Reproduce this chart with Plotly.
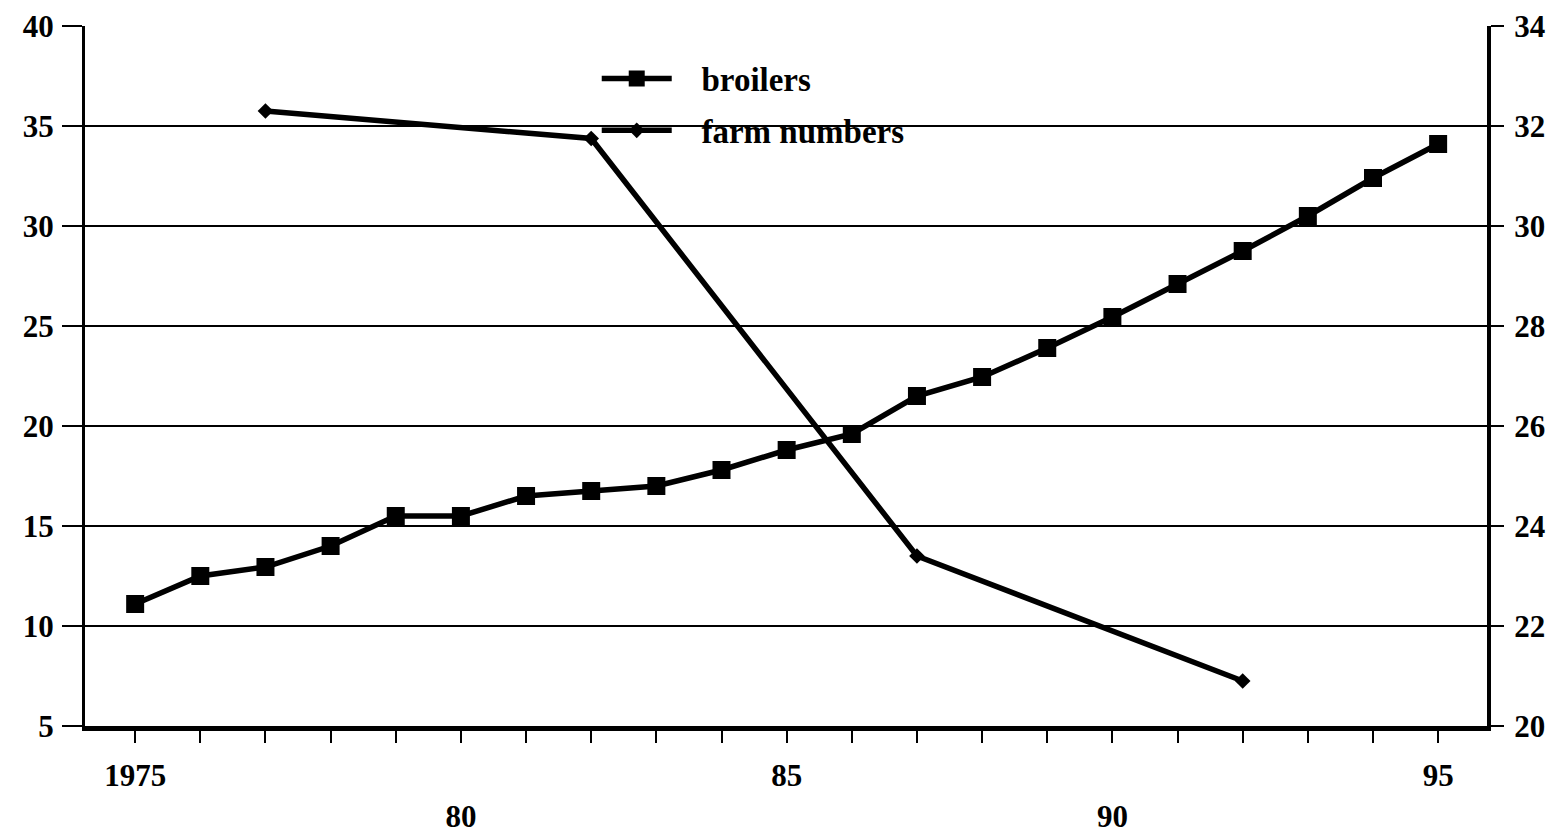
import plotly.graph_objects as go

# ---- data ----
broiler_years = [1975, 1976, 1977, 1978, 1979, 1980, 1981, 1982, 1983, 1984, 1985,
                 1986, 1987, 1988, 1989, 1990, 1991, 1992, 1993, 1994, 1995]
broilers = [11.1, 12.5, 12.95, 14.0, 15.5, 15.5, 16.5, 16.75, 17.0, 17.8, 18.8,
            19.6, 21.5, 22.45, 23.9, 25.45, 27.1, 28.75, 30.5, 32.4, 34.1]

farm_years = [1977, 1982, 1987, 1992]
farm_numbers = [32.3, 31.75, 23.4, 20.9]

x_tick_vals = [1975, 1980, 1985, 1990, 1995]
x_tick_text = ["1975", "<br>80", "85", "<br>90", "95"]
all_years = list(range(1975, 1996))

left_ticks = [5, 10, 15, 20, 25, 30, 35, 40]
right_ticks = [20, 22, 24, 26, 28, 30, 32, 34]

FONT = "Liberation Serif"
tickfont = dict(family=FONT, size=31, color="black", weight="bold")
xtickfont = dict(family=FONT, size=31, color="black", weight="bold")
NB = "\u00a0\u00a0\u00a0"

fig = go.Figure()

fig.add_trace(go.Scatter(
    x=broiler_years, y=broilers, name=NB + "broilers",
    mode="lines+markers",
    line=dict(color="black", width=5.5),
    marker=dict(symbol="square", size=18, color="black"),
    legendgroup="a",
))
fig.add_trace(go.Scatter(
    x=farm_years, y=farm_numbers, name=NB + "farm numbers",
    mode="lines+markers", yaxis="y2",
    line=dict(color="black", width=5.5),
    marker=dict(symbol="diamond", size=12, color="black"),
    legendgroup="b",
))

fig.update_layout(
    width=1562, height=834,
    margin=dict(l=77, r=83, t=18, b=116),
    paper_bgcolor="white", plot_bgcolor="white",
    showlegend=True,
    legend=dict(
        x=0.365, y=0.965, xanchor="left", yanchor="top",
        bgcolor="rgba(0,0,0,0)",
        font=dict(family=FONT, size=33, color="black", weight="bold"),
        itemwidth=70, traceorder="grouped", tracegroupgap=6,
    ),
    xaxis=dict(
        range=[1974.23, 1995.75], automargin=False,
        tickmode="array", tickvals=x_tick_vals, ticktext=x_tick_text,
        ticks="outside", ticklen=12, tickwidth=2, tickcolor="black",
        minor=dict(tickmode="array", tickvals=all_years, ticks="outside",
                   ticklen=12, tickwidth=2, tickcolor="black", showgrid=False),
        showgrid=False, zeroline=False,
        showline=True, linecolor="black", linewidth=5,
        tickfont=xtickfont, ticklabelstandoff=6,
    ),
    yaxis=dict(
        range=[5, 40], tickmode="array", tickvals=left_ticks, automargin=False,
        ticks="outside", ticklen=20, tickwidth=2, tickcolor="black",
        showgrid=True, gridcolor="black", gridwidth=2,
        zeroline=False, showline=True, linecolor="black", linewidth=3,
        tickfont=tickfont, ticklabelstandoff=2,
    ),
    yaxis2=dict(
        range=[20, 34], tickmode="array", tickvals=right_ticks, automargin=False,
        overlaying="y", side="right",
        ticks="outside", ticklen=13, tickwidth=2, tickcolor="black",
        showgrid=False, zeroline=False,
        showline=True, linecolor="black", linewidth=4,
        tickfont=tickfont, ticklabelstandoff=4,
    ),
)

fig.write_html("out.html")
